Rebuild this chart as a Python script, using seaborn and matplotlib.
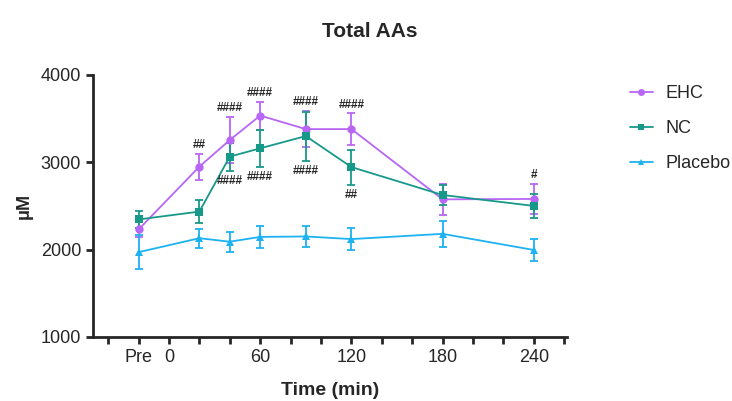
import pandas as pd
import matplotlib.pyplot as plt
import numpy as np
import seaborn as sns

# time points (Pre plotted at -20 min)
times = [-20, 20, 40, 60, 90, 120, 180, 240]
tick_pos = [-20, 0, 60, 120, 180, 240]
tick_labels = ["Pre", "0", "60", "120", "180", "240"]

ehc_mean = [2230, 2950, 3255, 3535, 3380, 3380, 2575, 2580]
ehc_err = [90, 150, 265, 160, 210, 180, 175, 170]
nc_mean = [2345, 2435, 3065, 3160, 3300, 2945, 2625, 2500]
nc_err = [100, 135, 160, 215, 280, 200, 120, 140]
pla_mean = [1970, 2130, 2090, 2145, 2150, 2120, 2180, 1995]
pla_err = [195, 110, 115, 125, 115, 130, 150, 125]

# significance marks: (time, text, above EHC / below NC)
sig_above = [(20, "##"), (40, "####"), (60, "####"), (90, "####"), (120, "####"), (240, "#")]
sig_below = [(40, "####"), (60, "####"), (90, "####"), (120, "##")]

groups = ["EHC", "NC", "Placebo"]
colors = {"EHC": "#B866F5", "NC": "#17998A", "Placebo": "#1DB2F2"}
markers = {"EHC": "o", "NC": "s", "Placebo": "^"}

df = pd.DataFrame({
    "time": times * 3,
    "value": ehc_mean + nc_mean + pla_mean,
    "err": ehc_err + nc_err + pla_err,
    "group": ["EHC"] * 8 + ["NC"] * 8 + ["Placebo"] * 8,
})

sns.set_style("ticks")
plt.rcParams["font.family"] = ["Liberation Sans", "DejaVu Sans"]

fig = plt.figure(figsize=(7.32, 4.01), dpi=100)
ax = fig.add_axes([0.127, 0.160, 0.648, 0.653])

for g in groups:
    d = df[df["group"] == g]
    ax.errorbar(d["time"], d["value"], yerr=d["err"], fmt="none",
                ecolor=colors[g], elinewidth=1.3, capsize=3, capthick=1.3, zorder=2)

sns.lineplot(data=df, x="time", y="value", hue="group", style="group",
             palette=colors, markers=markers, dashes=False, markersize=6,
             markeredgewidth=0, linewidth=1.3, ax=ax, legend=False, zorder=3)

# annotations
ehc = df[df["group"] == "EHC"].set_index("time")
nc = df[df["group"] == "NC"].set_index("time")
for t, s in sig_above:
    y = max(ehc.loc[t, "value"] + ehc.loc[t, "err"], nc.loc[t, "value"] + nc.loc[t, "err"])
    ax.annotate(s, (t, y), xytext=(0, 2), textcoords="offset points",
                ha="center", va="bottom", fontsize=8.5, fontweight="bold")
for t, s in sig_below:
    y = nc.loc[t, "value"] - nc.loc[t, "err"]
    ax.annotate(s, (t, y), xytext=(0, -3), textcoords="offset points",
                ha="center", va="top", fontsize=8.5, fontweight="bold")

ax.set_xlim(-50, 262)
ax.set_ylim(1000, 4000)
ax.set_yticks([1000, 2000, 3000, 4000])
ax.set_xticks(np.arange(-40, 261, 20), minor=True)
ax.set_xticks(tick_pos)
ax.set_xticklabels(tick_labels)
ax.tick_params(axis="both", which="both", width=2, length=5, labelsize=13)
for sp in ["left", "bottom"]:
    ax.spines[sp].set_linewidth(2)
sns.despine(ax=ax)

ax.set_xlabel("Time (min)", fontsize=14, fontweight="bold", labelpad=12)
ax.set_ylabel("μM", fontsize=13, fontweight="bold", labelpad=6)
fig.suptitle("Total AAs", x=0.505, y=0.945, fontsize=15, fontweight="bold")

handles = [plt.Line2D([], [], color=colors[g], marker=markers[g], markersize=5,
                      markeredgewidth=0, linewidth=1.3) for g in groups]
fig.legend(handles, groups, loc="upper left", bbox_to_anchor=(0.838, 0.828),
           frameon=False, fontsize=13, handlelength=1.3, handletextpad=0.7,
           labelspacing=1.0)

plt.savefig("out.png", dpi=100)
